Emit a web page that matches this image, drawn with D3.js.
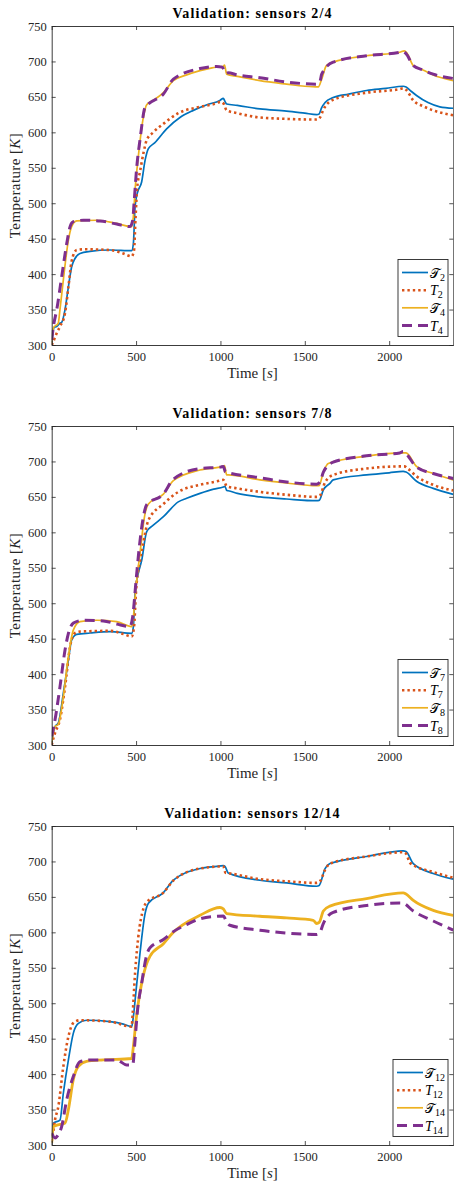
<!DOCTYPE html>
<html><head><meta charset="utf-8">
<script src="https://cdn.jsdelivr.net/npm/d3@7"></script>
<style>body{margin:0;background:#fff}svg{display:block}</style>
</head><body>
<svg id="c" width="454" height="1184"></svg>
<script>
// ---------- data ----------
const xTicks = [0, 500, 1000, 1500, 2000];
const yTicks = [300, 350, 400, 450, 500, 550, 600, 650, 700, 750];
const titles = ["Validation: sensors 2/4", "Validation: sensors 7/8", "Validation: sensors 12/14"];
const sensorIds = [["2", "4"], ["7", "8"], ["12", "14"]];

// panel 1 : [time s, temperature K]
const meas2 = [[0,305],[4,312],[15,325],[30,326],[50,331],[59,332],[79,350],[99,382],[118,410],[138,422],[168,429],[227,432],[346,434],[474,433],[484,443],[494,495],[507,514],[533,530],[553,560],[573,577],[610,585],[681,605],[760,621],[839,631],[920,639],[997,645],[1017,648],[1026,644],[1037,640],[1100,638],[1234,633],[1392,630],[1500,627],[1570,625],[1585,626],[1600,635],[1620,642],[1668,649],[1760,654],[1866,659],[1980,662],[2083,665],[2100,664],[2130,658],[2162,652],[2230,642],[2300,636],[2380,634]];
const sim2 = [[0,300],[6,303],[30,317],[49,326],[79,345],[99,382],[118,418],[148,434],[188,435],[346,434],[425,429],[474,425],[488,434],[497,480],[507,523],[523,544],[543,570],[563,589],[602,600],[662,612],[750,627],[879,636],[977,641],[1000,643],[1017,641],[1037,631],[1100,627],[1234,621],[1392,619],[1570,618],[1590,621],[1610,632],[1668,646],[1866,656],[2063,661],[2083,662],[2100,660],[2143,645],[2200,637],[2261,631],[2380,624]];
const meas4 = [[0,303],[10,324],[39,331],[49,350],[69,392],[99,448],[118,467],[148,475],[267,476],[385,471.5],[474,467],[484,481],[494,518],[513,565],[543,621],[563,639],[602,645],[662,656],[721,673],[800,681],[879,687],[950,691],[1017,693],[1024,695],[1037,682],[1100,679],[1234,673],[1392,668],[1500,665],[1580,664],[1600,675],[1628,694],[1668,699],[1866,708],[2063,713],[2090,715],[2105,712],[2143,694],[2200,688],[2261,681],[2380,673]];
const sim4 = [[0,307],[10,326],[30,350],[59,396],[89,443],[109,467],[128,474],[188,476],[286,475],[385,470.6],[464,467],[480,476],[488,500],[504,551],[523,589],[553,635],[573,640],[662,654],[721,675],[879,690],[977,693],[1010,692],[1017,690],[1030,683],[1046,684],[1100,681],[1234,677],[1392,671],[1570,668],[1590,672],[1600,682],[1668,699],[1866,708],[2063,713],[2080,714],[2100,711],[2143,694],[2200,688],[2261,682],[2380,676]];

// panel 2
const meas7 = [[0,305],[5,312],[20,326],[39,331],[69,373],[99,420],[118,448],[148,456],[227,458],[346,460],[474,457.5],[484,467],[494,514],[513,542],[533,560],[563,601],[602,610],[662,622],[750,643],[800,648],[879,655],[960,661],[1017,664],[1027,665],[1037,659],[1046,658.7],[1100,655],[1234,650],[1392,647],[1570,644.6],[1585,645],[1610,660],[1649,669],[1668,674],[1866,681],[2000,684],[2083,686],[2100,685],[2162,672],[2261,662],[2380,653.6]];
const sim7 = [[0,300],[5,305],[20,317],[49,336],[79,382],[109,439],[138,458],[168,460],[346,461],[425,456.5],[474,453],[488,467],[500,518],[523,560],[543,586],[573,617],[662,640],[750,657],[879,667],[980,672],[1017,674],[1037,665],[1100,662],[1234,657],[1392,653],[1570,650],[1590,652],[1619,670],[1668,681],[1866,690],[2063,693],[2090,693],[2110,690],[2162,679],[2261,667],[2380,659]];
const meas8 = [[0,303],[20,326],[39,329],[69,368],[99,425],[128,462],[168,474],[267,476],[385,474],[474,467],[484,481],[500,523],[523,570],[553,626],[573,640],[662,654],[721,673],[879,688],[1017,693],[1024,694],[1037,681],[1046,681],[1234,674],[1392,669.6],[1570,665.7],[1585,666],[1610,685],[1639,697],[1866,707.5],[2083,712],[2100,712],[2162,693],[2261,683],[2380,674]];
const sim8 = [[0,312],[20,336],[49,382],[79,434],[99,457.5],[128,472],[188,476],[306,475],[385,470.6],[464,467],[480,481],[500,532],[519,579],[543,621.5],[563,639],[662,654],[721,675],[879,690],[1000,692],[1017,693],[1030,685],[1046,684],[1234,677],[1392,671],[1570,668],[1590,671],[1610,685],[1668,699],[1866,708],[2063,712],[2083,714],[2100,711],[2162,692],[2261,683],[2380,676]];

// panel 3
const meas12 = [[0,310],[5,317],[10,331],[49,335],[69,373],[99,420],[128,457.5],[158,471.5],[207,476],[346,474],[425,470.6],[474,467],[484,481],[500,518],[523,570],[553,626],[573,641],[662,656],[721,673.5],[879,690],[977,693],[1017,694],[1027,693],[1046,683.8],[1234,673.5],[1392,669.7],[1570,665],[1585,666],[1620,690],[1649,697],[1866,707],[2083,715],[2100,714],[2143,697],[2261,683],[2380,675]];
const sim12 = [[0,305],[5,312],[20,336],[39,354],[69,411],[99,453],[128,472],[168,476],[346,474],[474,467],[480,486],[494,542],[513,593],[543,633],[563,642.5],[662,656],[721,673],[879,690],[1017,693],[1030,684],[1037,683.8],[1234,675],[1392,672],[1570,669.7],[1590,672],[1620,688],[1649,697],[1866,707],[2083,713],[2100,711],[2123,698],[2261,685],[2380,677]];
const meas14 = [[0,303],[10,326],[49,329],[79,331],[99,350],[128,392],[158,411],[207,418],[306,420],[474,422],[484,439],[500,476],[513,500],[533,528],[563,556],[582,566],[662,584],[721,600],[879,624],[997,635],[1017,633],[1037,626.5],[1234,622.7],[1392,620.3],[1550,617],[1570,612.4],[1585,614],[1610,630],[1649,637],[1866,647.7],[2083,655.6],[2100,654],[2143,645],[2261,631],[2380,624]];
const sim14 = [[0,317],[10,312],[20,310],[39,314.5],[59,326],[89,364],[128,396.5],[168,417.6],[227,420],[385,420],[444,413],[480,413],[494,448],[507,486],[533,528],[563,568],[582,578],[662,590],[721,601],[800,611],[879,619],[977,622.7],[1017,623],[1040,613],[1056,610],[1234,603],[1392,599],[1570,597],[1590,600],[1609,612],[1668,628],[1866,638],[2063,641.5],[2083,641],[2143,630],[2261,616],[2380,603]];

const panelSeries = [[meas2, sim2, meas4, sim4], [meas7, sim7, meas8, sim8], [meas12, sim12, meas14, sim14]];

// ---------- drawing ----------
const svg = d3.select("#c");
const plotLeft = 51.7, plotRight = 453.3;
const panelTops = [26, 426, 826];
const panelH = 319;
const serif = "'Liberation Serif','Times New Roman',serif";
const axisCol = "#262626";
const styles = [
  {color: "#0072BD", width: 1.7, dash: null},
  {color: "#D95319", width: 2.6, dash: "2.4,3"},
  {color: "#EDB120", width: 1.7, dash: null},
  {color: "#7E2F8E", width: 3, dash: "10,6"}
];

const x = d3.scaleLinear().domain([0, 2380]).range([plotLeft, plotRight]);
const fmt = d3.format("d");

panelTops.forEach((top, pi) => {
  const bottom = top + panelH;
  const y = d3.scaleLinear().domain([300, 750]).range([bottom, top]);
  const g = svg.append("g");

  const cid = "clip" + pi;
  svg.append("clipPath").attr("id", cid).append("rect")
    .attr("x", plotLeft).attr("y", top).attr("width", plotRight - plotLeft).attr("height", panelH);

  const line = d3.line().x(d => x(d[0])).y(d => y(d[1])).curve(d3.curveMonotoneX);
  const lg = g.append("g").attr("clip-path", `url(#${cid})`);
  panelSeries[pi].forEach((s, si) => {
    const st = styles[si];
    let w = st.width;
    if (pi === 2 && si === 2) w = 2.8;
    lg.append("path").datum(s).attr("d", line)
      .attr("fill", "none").attr("stroke", st.color).attr("stroke-width", w)
      .attr("stroke-dasharray", st.dash).attr("stroke-linejoin", "round");
  });

  const styleAxis = sel => {
    sel.selectAll("path.domain").attr("stroke", axisCol).attr("stroke-width", 0.9).attr("fill", "none");
    sel.selectAll(".tick line").attr("stroke", axisCol).attr("stroke-width", 0.8);
    sel.selectAll(".tick text").attr("fill", axisCol).attr("font-family", serif).attr("font-size", 12.5);
  };
  g.append("g").attr("transform", `translate(0,${bottom})`)
    .call(d3.axisBottom(x).tickValues(xTicks).tickFormat(fmt).tickSize(-4).tickSizeOuter(0).tickPadding(7))
    .call(styleAxis);
  g.append("g").attr("transform", `translate(0,${top})`)
    .call(d3.axisTop(x).tickValues(xTicks).tickSize(-4).tickSizeOuter(0).tickFormat(""))
    .call(styleAxis);
  g.append("g").attr("transform", `translate(${plotLeft},0)`)
    .call(d3.axisLeft(y).tickValues(yTicks).tickFormat(fmt).tickSize(-4).tickSizeOuter(0).tickPadding(5))
    .call(styleAxis);
  g.append("g").attr("transform", `translate(${plotRight},0)`)
    .call(d3.axisRight(y).tickValues(yTicks).tickSize(-4).tickSizeOuter(0).tickFormat(""))
    .call(styleAxis);

  // title
  g.append("text").attr("x", (plotLeft + plotRight) / 2).attr("y", top - 8)
    .attr("text-anchor", "middle").attr("font-family", serif).attr("font-weight", "bold")
    .attr("font-size", 14).attr("letter-spacing", 1.1).attr("fill", "#000").text(titles[pi]);

  // axis labels
  const xl = g.append("text").attr("x", (plotLeft + plotRight) / 2).attr("y", bottom + 33)
    .attr("text-anchor", "middle").attr("font-family", serif).attr("font-size", 15).attr("fill", axisCol);
  xl.append("tspan").text("Time [");
  xl.append("tspan").attr("font-style", "italic").text("s");
  xl.append("tspan").text("]");
  const yl = g.append("text").attr("transform", `translate(19.5,${(top + bottom) / 2}) rotate(-90)`)
    .attr("text-anchor", "middle").attr("font-family", serif).attr("font-size", 15)
    .attr("letter-spacing", 0.4).attr("fill", axisCol);
  yl.append("tspan").text("Temperature [");
  yl.append("tspan").attr("font-style", "italic").text("K");
  yl.append("tspan").text("]");

  // legend
  const leg = g.append("g");
  const rowsY = [13, 30.7, 48.3, 66];
  const ids = [sensorIds[pi][0], sensorIds[pi][0], sensorIds[pi][1], sensorIds[pi][1]];
  const box = leg.append("rect").attr("fill", "#fff").attr("stroke", axisCol).attr("stroke-width", 0.9);
  const items = leg.append("g");
  let maxW = 0;
  ids.forEach((id, i) => {
    const st = styles[i];
    const ry = rowsY[i];
    items.append("line").attr("x1", 4).attr("x2", 30).attr("y1", ry).attr("y2", ry)
      .attr("stroke", st.color).attr("stroke-width", st.width).attr("stroke-dasharray", st.dash);
    const t = items.append("text").attr("x", 32).attr("y", ry + 5)
      .attr("font-family", serif).attr("font-size", 14).attr("fill", "#000");
    if (i % 2 === 0) {
      t.append("tspan").attr("font-family", "'DejaVu Serif','Noto Sans',serif").attr("font-size", 13).text("\u{1D4AF}");
    } else {
      t.append("tspan").attr("font-style", "italic").text("T");
    }
    t.append("tspan").attr("font-size", 10).attr("dy", 3).text(id);
    maxW = Math.max(maxW, t.node().getComputedTextLength());
  });
  const bw = 32 + maxW + 3;
  const bh = 77;
  const bx = 448 - bw, by = bottom - 85.5;
  box.attr("x", bx).attr("y", by).attr("width", bw).attr("height", bh);
  items.attr("transform", `translate(${bx},${by})`);
});
</script>
</body></html>
